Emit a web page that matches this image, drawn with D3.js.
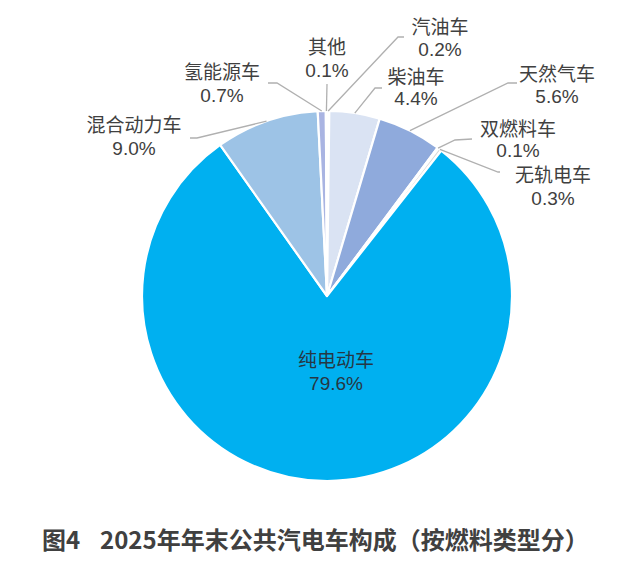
<!DOCTYPE html>
<html>
<head>
<meta charset="utf-8">
<script src="https://cdn.jsdelivr.net/npm/d3@7"></script>
<style>
  html, body { margin: 0; padding: 0; background: #fff; }
  svg { display: block; }
</style>
</head>
<body>
<svg id="chart" width="639" height="561"></svg>
<script>
// 燃料类型 (顺时针, 从12点方向开始)
const categories = ["汽油车", "柴油车", "天然气车", "双燃料车", "无轨电车", "纯电动车", "混合动力车", "氢能源车", "其他"];
const shares = [0.2, 4.4, 5.6, 0.1, 0.3, 79.6, 9.0, 0.7, 0.1];
const pctLabels = ["0.2%", "4.4%", "5.6%", "0.1%", "0.3%", "79.6%", "9.0%", "0.7%", "0.1%"];
const colors = ["#E4EAF6", "#DAE3F3", "#8FAADC", "#B4C7E7", "#D9D9D9", "#00B0F0", "#9DC3E6", "#A9B4E2", "#C5CBEA"];
const figNo = "图4";
const title = "2025年年末公共汽电车构成（按燃料类型分）";

// label layout: text centre / baselines, leader elbow and end
const labelPos = [
    { cx: 440, b1: 34, b2: 56, elbow: [398, 37], end: [404, 37] },
    { cx: 416, b1: 84, b2: 105, elbow: [375, 88], end: [382, 88] },
    { cx: 557, b1: 81, b2: 103, elbow: [508, 83], end: [517, 83] },
    { cx: 518, b1: 136, b2: 157, elbow: [455, 140], end: [472, 139] },
    { cx: 553, b1: 182, b2: 205, elbow: [498, 172], end: [500, 172] },
    { cx: 336, b1: 367, b2: 390, inside: true },
    { cx: 134, b1: 132, b2: 155, elbow: [197, 138], end: [190, 138] },
    { cx: 222, b1: 79, b2: 102, elbow: [277, 83], end: [268, 83] },
    { cx: 327, b1: 54, b2: 77, elbow: [327, 84], end: [327, 84] }
];

const cx = 327, cy = 296, radius = 185;
const font = "'Liberation Sans', Arial, 'Noto Sans CJK SC', sans-serif";

const svg = d3.select("#chart");

const color = d3.scaleOrdinal().domain(categories).range(colors);

const pie = d3.pie()
    .sort(null)
    .value(d => d.value)
    .startAngle(0)
    .endAngle(2 * Math.PI);

const rows = categories.map((c, i) => ({ name: c, value: shares[i], pct: pctLabels[i], pos: labelPos[i] }));
const arcs = pie(rows);

const arc = d3.arc().innerRadius(0).outerRadius(radius);
const edge = d3.arc().innerRadius(radius).outerRadius(radius);

const g = svg.append("g").attr("transform", `translate(${cx},${cy})`);

g.selectAll("path.slice")
    .data(arcs)
    .join("path")
    .attr("class", "slice")
    .attr("d", arc)
    .attr("fill", d => color(d.data.name))
    .attr("stroke", "#fff")
    .attr("stroke-width", 2.2)
    .attr("stroke-linejoin", "round");

// leader lines
const lines = svg.append("g");
arcs.forEach(d => {
    let p = d.data.pos;
    if (p.inside) return;
    let c = edge.centroid(d);
    let start = [cx + c[0], cy + c[1]];
    lines.append("polyline")
        .attr("points", [start, p.elbow, p.end].map(q => q.join(",")).join(" "))
        .attr("fill", "none")
        .attr("stroke", "#B0B0B0")
        .attr("stroke-width", 1.3);
});

// labels
const labels = svg.append("g")
    .attr("font-family", font)
    .attr("font-size", 19)
    .attr("text-anchor", "middle");

arcs.forEach(d => {
    let p = d.data.pos;
    let fill = p.inside ? "#263744" : "#404040";
    labels.append("text")
        .attr("x", p.cx)
        .attr("y", p.b1)
        .attr("fill", fill)
        .text(d.data.name);
    labels.append("text")
        .attr("x", p.cx)
        .attr("y", p.b2)
        .attr("fill", fill)
        .text(d.data.pct);
});

// title
const titleG = svg.append("g")
    .attr("font-family", "'Noto Sans CJK SC', sans-serif")
    .attr("font-weight", "bold")
    .attr("font-size", 24)
    .attr("fill", "#404040");
titleG.append("text").attr("x", 42).attr("y", 549).text(figNo);
titleG.append("text").attr("x", 100).attr("y", 549).text(title);
</script>
</body>
</html>
